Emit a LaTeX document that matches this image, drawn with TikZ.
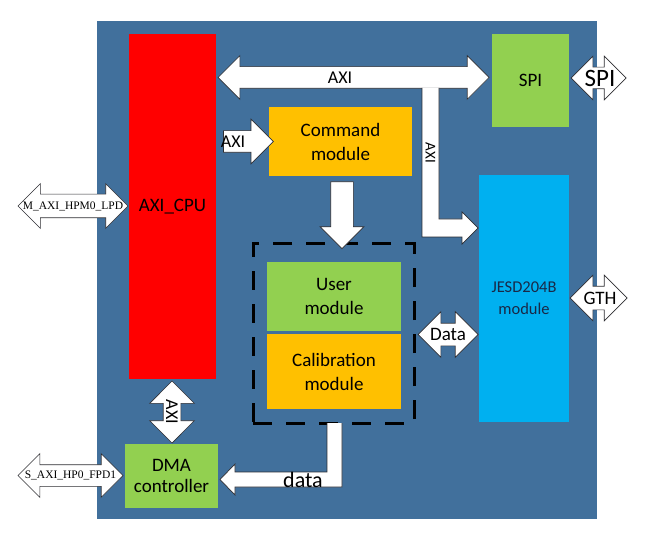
\documentclass[tikz,border=0pt]{standalone}
\usepackage{fontspec}
\setmainfont{Carlito}
\newfontfamily\portfont{Liberation Serif}
\usetikzlibrary{shapes.arrows}

\definecolor{panelblue}{RGB}{65,112,156}
\definecolor{cpured}{RGB}{255,0,0}
\definecolor{modgreen}{RGB}{146,208,80}
\definecolor{modorange}{RGB}{255,192,0}
\definecolor{jesdcyan}{RGB}{0,176,240}
\definecolor{jesdtext}{RGB}{25,40,70}
\definecolor{busedge}{RGB}{45,45,50}

\tikzset{
    modbox/.style={inner sep=0pt, align=center, font=\fontsize{19}{24}\selectfont},
    busline/.style={fill=white, draw=busedge, line width=0.7pt},
    dblbus/.style={busline, double arrow, double arrow tip angle=90,
        double arrow head extend=#1, inner sep=0pt, text depth=0pt},
    sglbus/.style={busline, single arrow, single arrow tip angle=90,
        single arrow head extend=#1, inner sep=0pt, text depth=0pt},
    buslabel/.style={inner sep=0pt, font=\fontsize{18}{20}\selectfont},
    portlabel/.style={inner sep=0pt, font=\portfont\fontsize{11.5}{13}\selectfont}
}

\begin{document}
\begin{tikzpicture}[x=1pt, y=-1pt]
    \useasboundingbox (0,0) rectangle (650,537);
    % Panel
    \fill[panelblue] (97,21) rectangle (597,519);

    % Modules
    \node[modbox, fill=cpured, minimum width=87, minimum height=345] (cpu) at (172.5,206.5) {AXI\_CPU};
    \node[modbox, fill=modgreen, minimum width=77, minimum height=93] (spi) at (530.5,80.5) {SPI};
    \node[modbox, fill=modorange, minimum width=143, minimum height=69] (cmd) at (340.5,141.5) {Command\\module};
    \node[modbox, fill=jesdcyan, text=jesdtext, minimum width=90, minimum height=247,
        font=\fontsize{16.5}{22}\selectfont] (jesd) at (524,298.5) {JESD204B\\module};
    \node[modbox, fill=modgreen, minimum width=134, minimum height=69] (user) at (334,296.5) {User\\module};
    \node[modbox, fill=modorange, minimum width=134, minimum height=75] (calib) at (334,371.5) {Calibration\\module};
    \node[modbox, fill=modgreen, minimum width=93, minimum height=64,
        font=\fontsize{19}{21}\selectfont] (dma) at (171.5,476) {DMA\\controller};
    \node[draw=black, line width=3pt, dash pattern=on 19pt off 14pt,
        minimum width=161, minimum height=179] (grp) at (333.5,333.5) {};

    % Buses
    \node[dblbus=11, minimum height=271, text height=21pt] (axitop) at (353.5,77.5) {};
    \node[buslabel] (axitoplbl) at (340,77.5) {AXI};
    \node[sglbus=11.5, minimum height=50, text height=21pt] (axicmd) at (243,141.5) {};
    \node[buslabel] (axicmdlbl) at (233,141.5) {AXI};
    \node[sglbus=10.5, minimum height=67, text height=22pt, rotate=-90] (cmdgrp) at (342,209.5) {};

    % Branch to JESD204B
    \draw[busline] (439,88) -- (439,219) -- (462,219) -- (462,212) -- (478,228)
        -- (462,244) -- (462,237) -- (422,237) -- (422,88);
    \node[buslabel, rotate=-90, font=\fontsize{15}{16}\selectfont] (axibrlbl) at (430.5,153) {AXI};

    \node[dblbus=11, minimum height=55, text height=21pt] (spiport) at (598.5,78) {};
    \node[buslabel, font=\fontsize{25}{26}\selectfont] (spiportlbl) at (600,78) {SPI};
    \node[dblbus=11, minimum height=57, text height=23pt] (gth) at (598.5,298) {};
    \node[buslabel, font=\fontsize{19}{20}\selectfont] (gthlbl) at (600,298) {GTH};
    \node[dblbus=11.5, minimum height=60, text height=22pt] (datalink) at (448,334.5) {};
    \node[buslabel, font=\fontsize{19}{20}\selectfont] (datalinklbl) at (448,334.5) {Data};
    \node[dblbus=13.5, minimum height=62, text height=17pt, rotate=-90] (axidma) at (172,412) {};
    \node[buslabel, rotate=-90] (axidmalbl) at (172,412) {AXI};

    \node[dblbus=10.5, minimum height=110, text height=23pt] (mport) at (73,206) {};
    \node[portlabel] (mportlbl) at (73,206) {M\_AXI\_HPM0\_LPD};
    \node[dblbus=11, minimum height=105, text height=21pt] (sport) at (70.5,475.5) {};
    \node[portlabel] (sportlbl) at (70.5,475.5) {S\_AXI\_HP0\_FPD1};

    % Data back to DMA
    \draw[busline] (342,423) -- (342,487) -- (235,487) -- (235,495) -- (220,479.5)
        -- (235,464) -- (235,472) -- (327,472) -- (327,423);
    \node[buslabel, font=\fontsize{22}{23}\selectfont] (dmadatalbl) at (303,480) {data};
\end{tikzpicture}
\end{document}
